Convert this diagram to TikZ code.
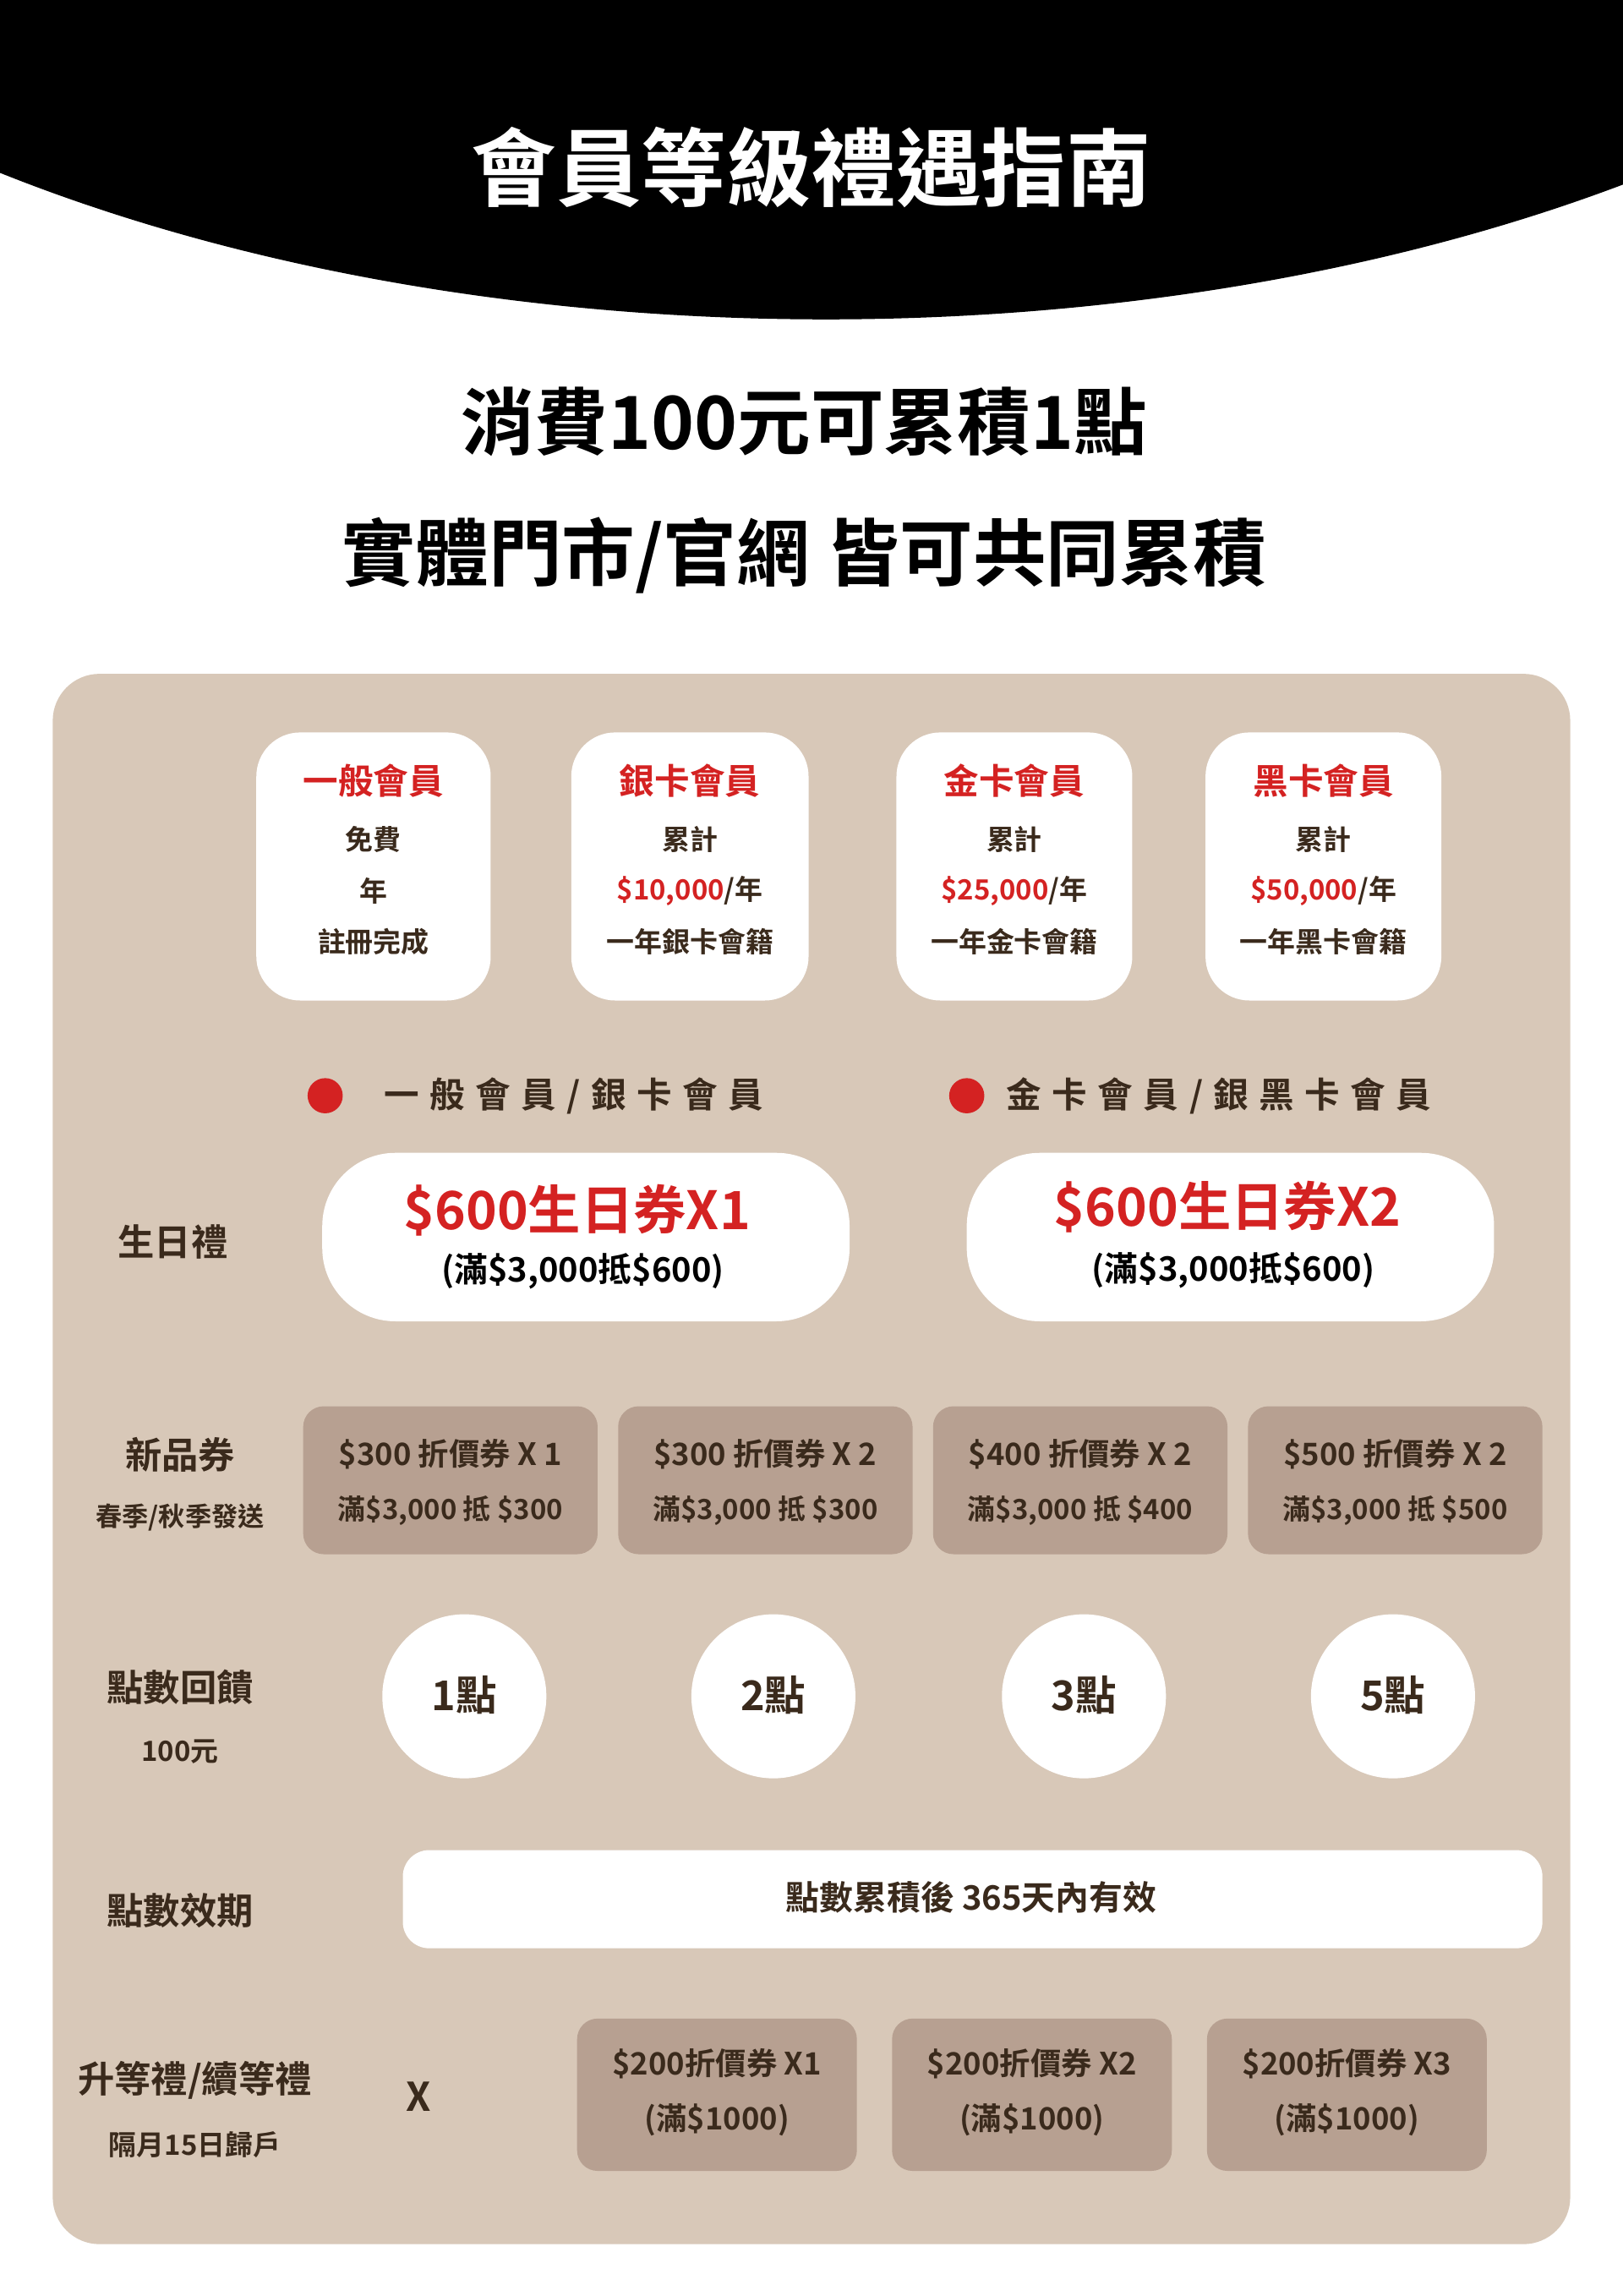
\documentclass[tikz,border=0pt]{standalone}
\usepackage{fontspec}
\setmainfont{Noto Sans CJK TC}[BoldFont={* Bold}]
\newfontfamily\cjkb{Noto Sans CJK TC Bold}
\definecolor{beige}{HTML}{D8C8B8}
\definecolor{brownbox}{HTML}{B7A091}
\definecolor{txt}{HTML}{3A2A1C}
\definecolor{red}{HTML}{D42222}
\tikzset{
 card/.style={fill=white,rounded corners=30pt},
 bbox/.style={fill=brownbox,rounded corners=14pt},
 t/.style={text=txt,font=\cjkb,inner sep=0pt},
}
\begin{document}
\begin{tikzpicture}[x=1pt,y=-1pt]
\useasboundingbox[fill=white] (0,0) rectangle (1108,1567.4);
\fill[black] (0,0)--(1108,0)--(1108,126) .. controls (780,250) and (330,250) .. (0,118) -- cycle;
\node[t,text=white,font=\cjkb\fontsize{58}{60}\selectfont] (title) at (554,114) {會員等級禮遇指南};
\node[t,text=black,font=\cjkb\fontsize{50}{52}\selectfont] (l1) at (549,288) {消費100元可累積1點};
\node[t,text=black,font=\cjkb\fontsize{50}{52}\selectfont] (l2) at (549,379) {實體門市/官網 皆可共同累積};
\fill[beige,rounded corners=32pt] (36,460) rectangle (1072,1532);
% cards
\foreach \xa/\xb/\ti/\la/\lb/\lc [count=\i] in {175/335/一般會員/免費 / 年/註冊完成/終身一般會員,390/552/銀卡會員/累計/{\textcolor{red}{\$10,000}/年}/一年銀卡會籍,612/773/金卡會員/累計/{\textcolor{red}{\$25,000}/年}/一年金卡會籍,823/984/黑卡會員/累計/{\textcolor{red}{\$50,000}/年}/一年黑卡會籍}{
 \fill[card] (\xa,500) rectangle (\xb,683);
 \node[t,text=red,font=\cjkb\fontsize{24}{26}\selectfont] (ct\i) at ({(\xa+\xb)/2},533) {\ti};
 \node[t,font=\cjkb\fontsize{19}{21}\selectfont] (ca\i) at ({(\xa+\xb)/2},573) {\la};
 \node[t,font=\cjkb\fontsize{19}{21}\selectfont] (cb\i) at ({(\xa+\xb)/2},608) {\lb};
 \node[t,font=\cjkb\fontsize{19}{21}\selectfont] (cc\i) at ({(\xa+\xb)/2},643) {\lc};
}
\fill[red] (222,748) circle (12);
\fill[red] (660,748) circle (12);
\node[t,anchor=west,font=\cjkb\fontsize{24}{26}\selectfont\addfontfeatures{LetterSpace=30}] (h1) at (262,748) {一般會員/銀卡會員};
\node[t,anchor=west,font=\cjkb\fontsize{24}{26}\selectfont\addfontfeatures{LetterSpace=30}] (h2) at (687,748) {金卡會員/銀黑卡會員};
% birthday
\node[t,font=\cjkb\fontsize{25}{27}\selectfont] (bd) at (118,848) {生日禮};
\fill[card,rounded corners=50pt] (220,787) rectangle (580,902);
\fill[card,rounded corners=50pt] (660,787) rectangle (1020,902);
\node[t,text=red,font=\cjkb\fontsize{36}{38}\selectfont] (b1) at (394,826) {\$600生日券X1};
\node[t,text=black,font=\cjkb\fontsize{23}{25}\selectfont] (b1s) at (398,868) {(滿\$3,000抵\$600)};
\node[t,text=red,font=\cjkb\fontsize{36}{38}\selectfont] (b2) at (838,824) {\$600生日券X2};
\node[t,text=black,font=\cjkb\fontsize{23}{25}\selectfont] (b2s) at (842,867) {(滿\$3,000抵\$600)};
% new product coupons
\node[t,font=\cjkb\fontsize{25}{27}\selectfont] (np) at (123,993) {新品券};
\node[t,font=\cjkb\fontsize{18}{20}\selectfont] (nps) at (123,1036) {春季/秋季發送};
\foreach \xa/\a/\b [count=\i] in {207/{\$300 折價券 X 1}/{滿\$3,000 抵 \$300},422/{\$300 折價券 X 2}/{滿\$3,000 抵 \$300},637/{\$400 折價券 X 2}/{滿\$3,000 抵 \$400},852/{\$500 折價券 X 2}/{滿\$3,000 抵 \$500}}{
 \fill[bbox] (\xa,960) rectangle ++(201,101);
 \node[t,font=\cjkb\fontsize{21}{23}\selectfont] (na\i) at (\xa+100.5,993) {\a};
 \node[t,font=\cjkb\fontsize{19}{21}\selectfont] (nb\i) at (\xa+100.5,1031) {\b};
}
% points
\node[t,font=\cjkb\fontsize{25}{27}\selectfont] (pt) at (123,1152) {點數回饋};
\node[t,font=\cjkb\fontsize{19}{21}\selectfont] (pts) at (123,1196) {100元};
\foreach \x/\p [count=\i] in {317/1點,528/2點,740/3點,951/5點}{
 \fill[white] (\x,1158) circle (56);
 \node[t,font=\cjkb\fontsize{28}{30}\selectfont] (pc\i) at (\x,1157) {\p};
}
% validity
\node[t,font=\cjkb\fontsize{25}{27}\selectfont] (va) at (123,1304) {點數效期};
\fill[card,rounded corners=18pt] (275,1263) rectangle (1053,1330);
\node[t,font=\cjkb\fontsize{23}{25}\selectfont] (vt) at (663,1295) {點數累積後 365天內有效};
% upgrade
\node[t,font=\cjkb\fontsize{25}{27}\selectfont] (up) at (133,1420) {升等禮/續等禮};
\node[t,font=\cjkb\fontsize{19}{21}\selectfont] (ups) at (133,1464) {隔月15日歸戶};
\node[t,font=\cjkb\fontsize{27}{29}\selectfont] (ux) at (286,1431) {X};
\foreach \xa/\a [count=\i] in {394/X1,609/X2,824/X3}{
 \fill[bbox] (\xa,1378) rectangle ++(191,104);
 \node[t,font=\cjkb\fontsize{21}{23}\selectfont] (ua\i) at (\xa+95.5,1409) {\$200折價券 \a};
 \node[t,font=\cjkb\fontsize{21}{23}\selectfont] (ub\i) at (\xa+95.5,1447) {(滿\$1000)};
}
\end{tikzpicture}
\end{document}
